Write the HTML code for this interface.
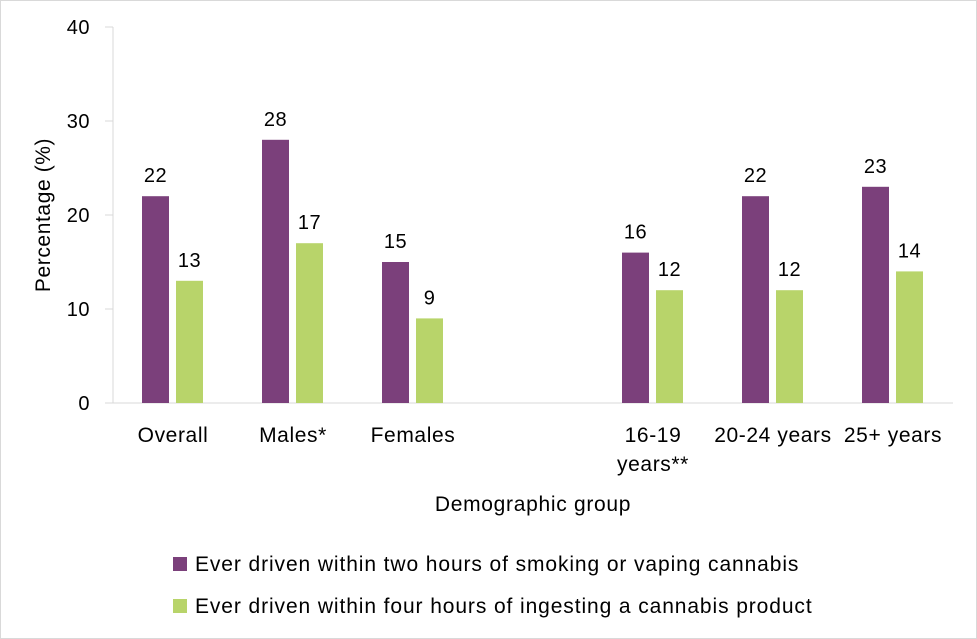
<!DOCTYPE html>
<html><head><meta charset="utf-8"><style>
body{margin:0;background:#fff}
svg{display:block;font-family:"Liberation Sans",Arial,sans-serif}
</style></head><body>
<svg id="c" width="977" height="639">
<rect x="0.5" y="0.5" width="976" height="638" fill="#fff" stroke="#d9d9d9"/>
</svg>
<script>
const categories=["Overall","Males*","Females","","16-19|years**","20-24 years","25+ years"];
const smoking=[22,28,15,null,16,22,23];
const ingesting=[13,17,9,null,12,12,14];
const yTicks=[0,10,20,30,40];
const svg=document.getElementById('c');
const NS='http://www.w3.org/2000/svg';
const x0=113,slot=120,y0=403,yTop=27;
const y=v=>y0-(v/40)*(y0-yTop);
const cx=i=>x0+slot*i+slot/2;
function mk(t,a,txt){const e=document.createElementNS(NS,t);for(const k in a)e.setAttribute(k,a[k]);if(txt!=null)e.textContent=txt;svg.appendChild(e);return e;}
let e;
e=mk('line',{x1:x0,y1:yTop,x2:x0,y2:y0,stroke:'#d9d9d9'});


e=mk('line',{x1:x0,y1:y0,x2:x0+slot*7,y2:y0,stroke:'#d9d9d9'});


yTicks.forEach(t=>{
 e=mk('line',{x1:x0-8,y1:y(t),x2:x0,y2:y(t),stroke:'#d9d9d9'});
 
 
 e=mk('text',{x:90,y:y(t)+7,'text-anchor':'end','font-size':20,'letter-spacing':0.5},t);
 
 
});
categories.forEach((c,i)=>{
 if(!c)return;
 const parts=c.split('|');
 parts.forEach((p,j)=>{
  e=mk('text',{x:cx(i),y:442+j*29,'text-anchor':'middle','font-size':21,'letter-spacing':0.6},p);
  
  
 });
 [[smoking,'#7b407b',-31],[ingesting,'#b8d46a',3]].forEach(([arr,col,off])=>{
  const v=arr[i];if(v==null)return;
  e=mk('rect',{x:cx(i)+off,y:y(v),width:27,height:y0-y(v),fill:col});
  
  
  e=mk('text',{x:cx(i)+off+13.5,y:y(v)-14,'text-anchor':'middle','font-size':20,'letter-spacing':0.5},v);
  
  
 });
});
e=mk('text',{x:533,y:511,'text-anchor':'middle','font-size':21,'letter-spacing':0.7},'Demographic group');


e=mk('text',{x:0,y:0,'text-anchor':'middle','font-size':21,'letter-spacing':0.6,transform:'translate(50,215) rotate(-90)'},'Percentage (%)');


[['#7b407b','Ever driven within two hours of smoking or vaping cannabis',564],['#b8d46a','Ever driven within four hours of ingesting a cannabis product',606]].forEach(([col,t,yy])=>{
 e=mk('rect',{x:173,y:yy-7,width:14,height:14,fill:col});
 
 
 e=mk('text',{x:195,y:yy+7,'font-size':21,'letter-spacing':0.9},t);
 
 
});
</script>
</body></html>
